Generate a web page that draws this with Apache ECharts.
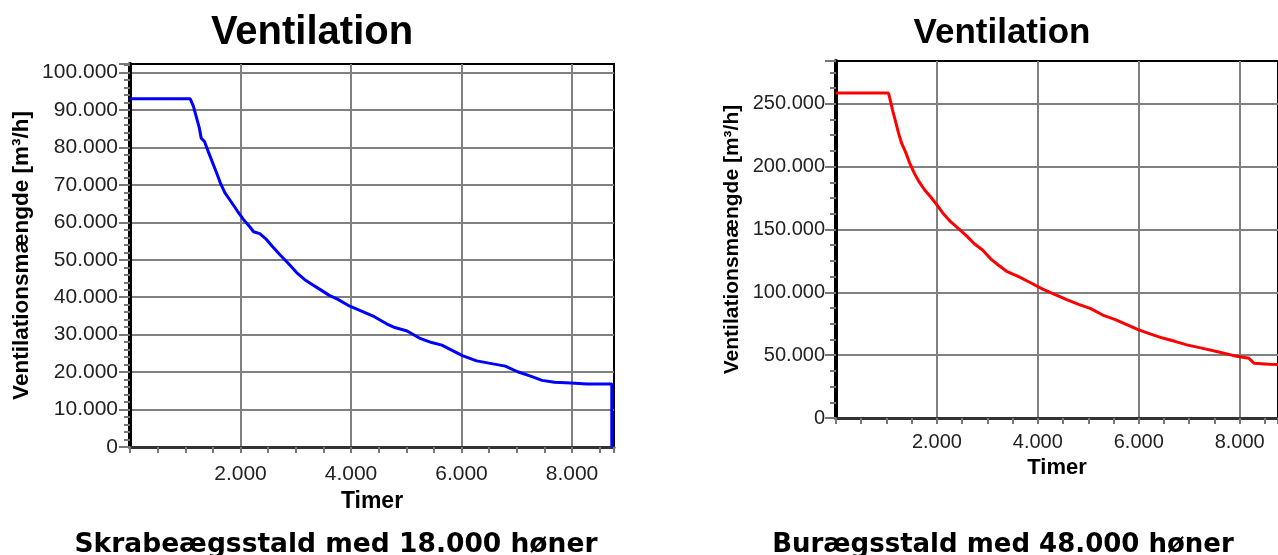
<!DOCTYPE html>
<html>
<head>
<meta charset="utf-8">
<script src="https://cdn.jsdelivr.net/npm/echarts@6/dist/echarts.min.js"></script>
<style>
  html, body { margin: 0; padding: 0; background: #fff; }
  #chart { width: 1278px; height: 555px; }
</style>
</head>
<body>
<div id="chart"></div>
<script>
// ---- Data ----
const chartTitle = 'Ventilation';
const yAxisName = 'Ventilationsmængde [m³/h]';
const xAxisName = 'Timer';
const leftCaption = 'Skrabeægsstald med 18.000 høner';
const rightCaption = 'Burægsstald med 48.000 høner';

// Left: Skrabeægsstald (hours, m3/h)
const leftHours = [0, 1090, 1148, 1200, 1252, 1289, 1348, 1422, 1496, 1570, 1644, 1719, 1830, 1941, 2052, 2163, 2237, 2348, 2459, 2570, 2718, 2867, 3015, 3163, 3311, 3459, 3607, 3755, 3978, 4200, 4422, 4644, 4793, 5015, 5237, 5459, 5644, 5830, 6015, 6274, 6570, 6793, 7015, 7237, 7459, 7681, 7978, 8274, 8720, 8720];
const leftFlow  = [93000, 93000, 91000, 88200, 85400, 82500, 81600, 78700, 75900, 73100, 70200, 67900, 65500, 63100, 60800, 58900, 57500, 57000, 55600, 53700, 51300, 49000, 46600, 44700, 43300, 41900, 40500, 39500, 37600, 36200, 34800, 32900, 31900, 31000, 29100, 27900, 27200, 25800, 24400, 23000, 22200, 21600, 20100, 19000, 17800, 17300, 17100, 16800, 16800, 0];

// Right: Burægsstald (hours, m3/h)
const rightHours = [0, 1040, 1079, 1119, 1175, 1238, 1302, 1381, 1460, 1556, 1635, 1754, 1873, 2000, 2111, 2270, 2429, 2587, 2746, 2905, 3064, 3222, 3381, 3619, 3857, 4095, 4333, 4572, 4810, 5048, 5286, 5524, 5762, 6000, 6238, 6476, 6714, 6952, 7270, 7587, 7905, 8183, 8290, 8580, 8760];
const rightFlow  = [258500, 258500, 252300, 245200, 236700, 226800, 218400, 211300, 202800, 194400, 188700, 181600, 176000, 169500, 163300, 156200, 150600, 144900, 138400, 133600, 126600, 121500, 116700, 112400, 107600, 102500, 98300, 94100, 90400, 87000, 81900, 78500, 74300, 70100, 66700, 63600, 61000, 58200, 55400, 52500, 49400, 47500, 43500, 42800, 42500];

// Axis settings
const xMax = 8760, xStep = 2000;
const leftYMax = 102300, leftYStep = 10000;
const rightYMax = 284000, rightYStep = 50000;

// ---- Helpers ----
function fmt(v) {
  return String(v).replace(/\B(?=(\d{3})+(?!\d))/g, '.');
}
function zip(xs, ys) { return xs.map((x, i) => [x, ys[i]]); }

const LBL = '"Liberation Sans", Arial, Helvetica, sans-serif';
const CAP = '"DejaVu Sans", Verdana, sans-serif';

function xAxisCfg(gridIndex, fs, margin, nameGap, nameFs) {
  return {
    type: 'value', gridIndex, min: 0, max: xMax, interval: xStep,
    name: xAxisName, nameLocation: 'middle', nameGap,
    nameTextStyle: { fontFamily: LBL, fontWeight: 'bold', fontSize: nameFs, color: '#000' },
    axisLine: { show: true, onZero: false, lineStyle: { color: '#333', width: 3 } },
    axisTick: { show: true, length: 6, lineStyle: { color: '#777', width: 2 } },
    minorTick: { show: true, splitNumber: 4, length: 6, lineStyle: { color: '#777', width: 2 } },
    splitLine: { show: true, showMinLine: false, showMaxLine: false, lineStyle: { color: '#808080', width: 2 } },
    axisLabel: {
      margin, fontFamily: LBL, fontSize: fs, color: '#222',
      showMaxLabel: false,
      formatter: v => (v > 0 && v % xStep === 0) ? fmt(v) : ''
    }
  };
}
function yAxisCfg(gridIndex, max, step, minorSplit, fs, margin, nameGap, nameFs) {
  return {
    type: 'value', gridIndex, min: 0, max, interval: step,
    name: yAxisName, nameLocation: 'middle', nameGap,
    nameTextStyle: { fontFamily: LBL, fontWeight: 'bold', fontSize: nameFs, color: '#000' },
    axisLine: { show: true, onZero: false, lineStyle: { color: '#000', width: 4 } },
    axisTick: { show: true, length: 11, lineStyle: { color: '#777', width: 2 } },
    minorTick: { show: true, splitNumber: minorSplit, length: 6, lineStyle: { color: '#777', width: 2 } },
    splitLine: { show: true, showMinLine: false, showMaxLine: false, lineStyle: { color: '#808080', width: 2 } },
    axisLabel: {
      margin, fontFamily: LBL, fontSize: fs, color: '#222',
      showMaxLabel: false,
      formatter: v => (v % step === 0) ? fmt(v) : ''
    }
  };
}

const chart = echarts.init(document.getElementById('chart'), null, { renderer: 'canvas' });

const option = {
  backgroundColor: '#fff',
  animation: false,
  grid: [
    { left: 130, top: 64, width: 484, height: 383, show: true, borderColor: '#000', borderWidth: 2, backgroundColor: '#fff', containLabel: false },
    { left: 836, top: 61, width: 451, height: 357, show: true, borderColor: '#000', borderWidth: 2, backgroundColor: '#fff', containLabel: false }
  ],
  xAxis: [
    xAxisCfg(0, 21, 17, 43, 23),
    xAxisCfg(1, 20, 14, 37, 22)
  ],
  yAxis: [
    yAxisCfg(0, leftYMax, leftYStep, 5, 21, 12, 97, 22.5),
    yAxisCfg(1, rightYMax, rightYStep, 4, 20, 11, 93, 21)
  ],
  series: [
    {
      type: 'line', xAxisIndex: 0, yAxisIndex: 0,
      data: zip(leftHours, leftFlow),
      showSymbol: false, symbol: 'none',
      lineStyle: { color: '#0000ff', width: 3 },
      itemStyle: { color: '#0000ff' },
      z: 5
    },
    {
      type: 'line', xAxisIndex: 1, yAxisIndex: 1,
      data: zip(rightHours, rightFlow),
      showSymbol: false, symbol: 'none',
      lineStyle: { color: '#ff0000', width: 3 },
      itemStyle: { color: '#ff0000' },
      z: 5
    }
  ],
  graphic: [
    { type: 'text', x: 312, y: 33, style: { text: chartTitle, font: 'bold 40px ' + LBL, fill: '#000', align: 'center', verticalAlign: 'middle', textAlign: 'center', textVerticalAlign: 'middle' } },
    { type: 'text', x: 1002, y: 33, style: { text: chartTitle, font: 'bold 35px ' + LBL, fill: '#000', align: 'center', verticalAlign: 'middle', textAlign: 'center', textVerticalAlign: 'middle' } },
    { type: 'text', x: 336, y: 545, style: { text: leftCaption, font: 'bold 26.5px ' + CAP, fill: '#000', align: 'center', verticalAlign: 'middle', textAlign: 'center', textVerticalAlign: 'middle' } },
    { type: 'text', x: 1003, y: 545, style: { text: rightCaption, font: 'bold 26px ' + CAP, fill: '#000', align: 'center', verticalAlign: 'middle', textAlign: 'center', textVerticalAlign: 'middle' } }
  ]
};

chart.setOption(option);
</script>
</body>
</html>
